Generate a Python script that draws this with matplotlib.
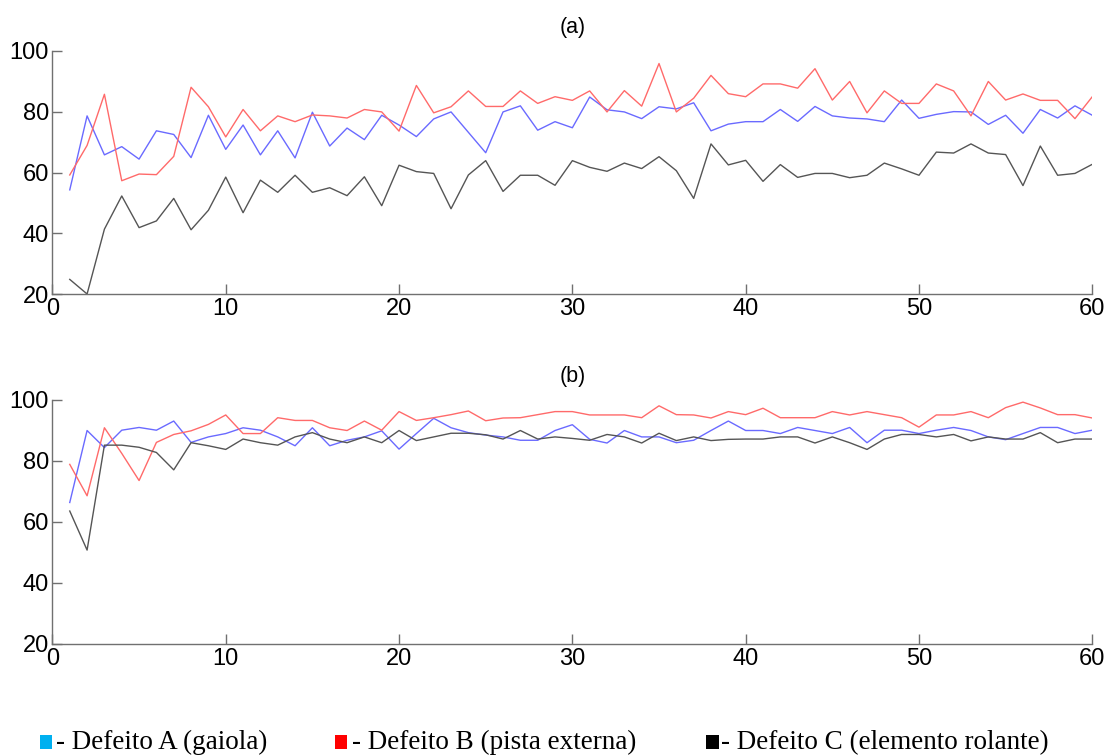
import matplotlib
matplotlib.use("Agg")
import matplotlib.pyplot as plt
from matplotlib.patches import Rectangle

plt.rcParams['font.family'] = ['Liberation Sans', 'DejaVu Sans']

x = list(range(1, 61))

# Panel (a)
a_gaiola = [54.3, 78.6, 65.8, 68.5, 64.4, 73.7, 72.5, 64.9, 78.8, 67.6,
            75.6, 65.8, 73.7, 64.8, 79.8, 68.7, 74.6, 70.8, 78.8, 75.6,
            71.8, 77.6, 79.9, 73.2, 66.5, 79.9, 81.9, 73.9, 76.7, 74.7,
            84.8, 80.6, 79.9, 77.7, 81.6, 80.9, 82.9, 73.7, 75.9, 76.7,
            76.7, 80.7, 76.8, 81.7, 78.6, 77.9, 77.6, 76.7, 83.8, 77.8,
            79.1, 80.0, 79.9, 75.8, 78.8, 72.9, 80.7, 77.9, 81.9, 78.8]
a_pista = [59.2, 68.9, 85.7, 57.3, 59.5, 59.3, 65.3, 88.0, 81.6, 71.7,
           80.7, 73.7, 78.6, 76.7, 78.9, 78.6, 77.9, 80.7, 79.9, 73.6,
           88.6, 79.6, 81.6, 86.8, 81.7, 81.7, 86.8, 82.7, 84.9, 83.7,
           86.8, 79.9, 86.9, 81.8, 95.8, 79.9, 84.4, 91.9, 85.9, 84.9,
           89.1, 89.1, 87.7, 94.1, 83.8, 89.9, 79.6, 86.8, 82.7, 82.7,
           89.1, 86.8, 78.6, 89.9, 83.8, 85.8, 83.7, 83.7, 77.7, 84.9]
a_rolante = [24.9, 20.1, 41.4, 52.3, 41.9, 44.1, 51.5, 41.2, 47.6, 58.5,
             46.8, 57.5, 53.5, 59.1, 53.5, 55.0, 52.4, 58.6, 49.1, 62.4,
             60.3, 59.7, 48.1, 59.2, 63.9, 53.8, 59.1, 59.1, 55.8, 63.9,
             61.7, 60.4, 63.1, 61.3, 65.2, 60.6, 51.5, 69.4, 62.5, 64.0,
             57.1, 62.6, 58.4, 59.7, 59.7, 58.3, 59.1, 63.1, 61.2, 59.1,
             66.7, 66.4, 69.4, 66.4, 65.9, 55.7, 68.7, 59.1, 59.7, 62.7]

# Panel (b)
b_gaiola = [66.3, 89.9, 84.3, 90.0, 90.9, 90.0, 93.0, 86.0, 87.8, 88.9,
            90.8, 90.0, 87.8, 84.9, 90.8, 84.9, 86.7, 87.8, 89.8, 83.8,
            88.9, 93.9, 90.8, 89.2, 88.4, 87.8, 86.7, 86.7, 89.9, 91.8,
            87.0, 85.8, 89.9, 87.8, 87.8, 85.9, 86.7, 89.9, 93.0, 89.9,
            89.9, 88.9, 90.9, 89.9, 88.9, 90.9, 85.9, 90.0, 90.0, 88.9,
            90.0, 90.9, 89.9, 87.8, 86.9, 88.9, 90.9, 90.9, 88.9, 90.0]
b_pista = [78.8, 68.5, 90.8, 82.4, 73.5, 86.0, 88.6, 89.8, 91.9, 95.0,
           88.9, 88.9, 94.1, 93.2, 93.2, 90.8, 89.9, 93.0, 90.0, 96.1,
           93.2, 94.1, 95.1, 96.3, 93.1, 94.0, 94.1, 95.1, 96.1, 96.1,
           95.0, 95.0, 95.0, 94.1, 98.0, 95.1, 95.0, 94.0, 96.1, 95.1,
           97.2, 94.1, 94.1, 94.1, 96.1, 95.0, 96.1, 95.1, 94.1, 91.0,
           95.0, 95.0, 96.1, 94.1, 97.4, 99.2, 97.3, 95.1, 95.1, 94.0]
b_rolante = [63.5, 50.7, 85.1, 85.1, 84.4, 82.7, 77.0, 85.9, 84.9, 83.7,
             87.1, 85.9, 85.1, 87.8, 89.2, 87.1, 85.9, 87.8, 85.9, 89.9,
             86.6, 87.8, 89.0, 89.0, 88.5, 87.1, 89.9, 87.1, 87.8, 87.3,
             86.7, 88.6, 87.8, 85.8, 89.0, 86.6, 87.8, 86.6, 87.0, 87.1,
             87.1, 87.8, 87.8, 85.8, 87.8, 85.9, 83.7, 87.1, 88.6, 88.6,
             87.8, 88.6, 86.5, 87.8, 87.1, 87.1, 89.2, 85.9, 87.1, 87.1]

titles = ['(a)', '(b)']
xticks = [0, 10, 20, 30, 40, 50, 60]
yticks = [20, 40, 60, 80, 100]
legend_labels = ['- Defeito A (gaiola)', '- Defeito B (pista externa)',
                 '- Defeito C (elemento rolante)']
legend_colors = ['#00B0F0', '#FF0000', '#000000']

line_colors = ['#6a6aff', '#ff6a6a', '#555555']

fig = plt.figure(figsize=(11.13, 7.56), dpi=100)
ax_a = fig.add_axes([0.0471, 0.6107, 0.9343, 0.3222])
ax_b = fig.add_axes([0.0471, 0.1485, 0.9343, 0.3228])

panels = [(ax_a, [a_gaiola, a_pista, a_rolante]),
          (ax_b, [b_gaiola, b_pista, b_rolante])]

for (ax, series), title in zip(panels, titles):
    for ys, c in zip(series, line_colors):
        ax.plot(x, ys, color=c, linewidth=1.0)
    ax.set_xlim(0, 60)
    ax.set_ylim(20, 100)
    ax.set_xticks(xticks)
    ax.set_yticks(yticks)
    ax.spines['top'].set_visible(False)
    ax.spines['right'].set_visible(False)
    for s in ['left', 'bottom']:
        ax.spines[s].set_color('#707070')
        ax.spines[s].set_linewidth(1.0)
    ax.tick_params(direction='in', length=7, width=1.0, color='#707070',
                   labelsize=17, labelcolor='black')
    ax.tick_params(axis='y', pad=2.5)
    ax.tick_params(axis='x', pad=3)
    ax.set_title(title, fontsize=15.5, pad=13)

sq_x = [39.5, 335, 706]
txt_x = [56, 352, 721]
W, H = 1113.0, 756.0
for sx, tx, lab, col in zip(sq_x, txt_x, legend_labels, legend_colors):
    fig.patches.append(Rectangle((sx / W, (H - 748.7) / H), 12.5 / W, 13.4 / H,
                                 transform=fig.transFigure, facecolor=col,
                                 edgecolor='none', figure=fig))
    fig.text(tx / W, (H - 748.7) / H, lab, color='black', fontsize=19.5,
             family='Liberation Serif', va='baseline', ha='left')

fig.savefig('out.png', dpi=100)
